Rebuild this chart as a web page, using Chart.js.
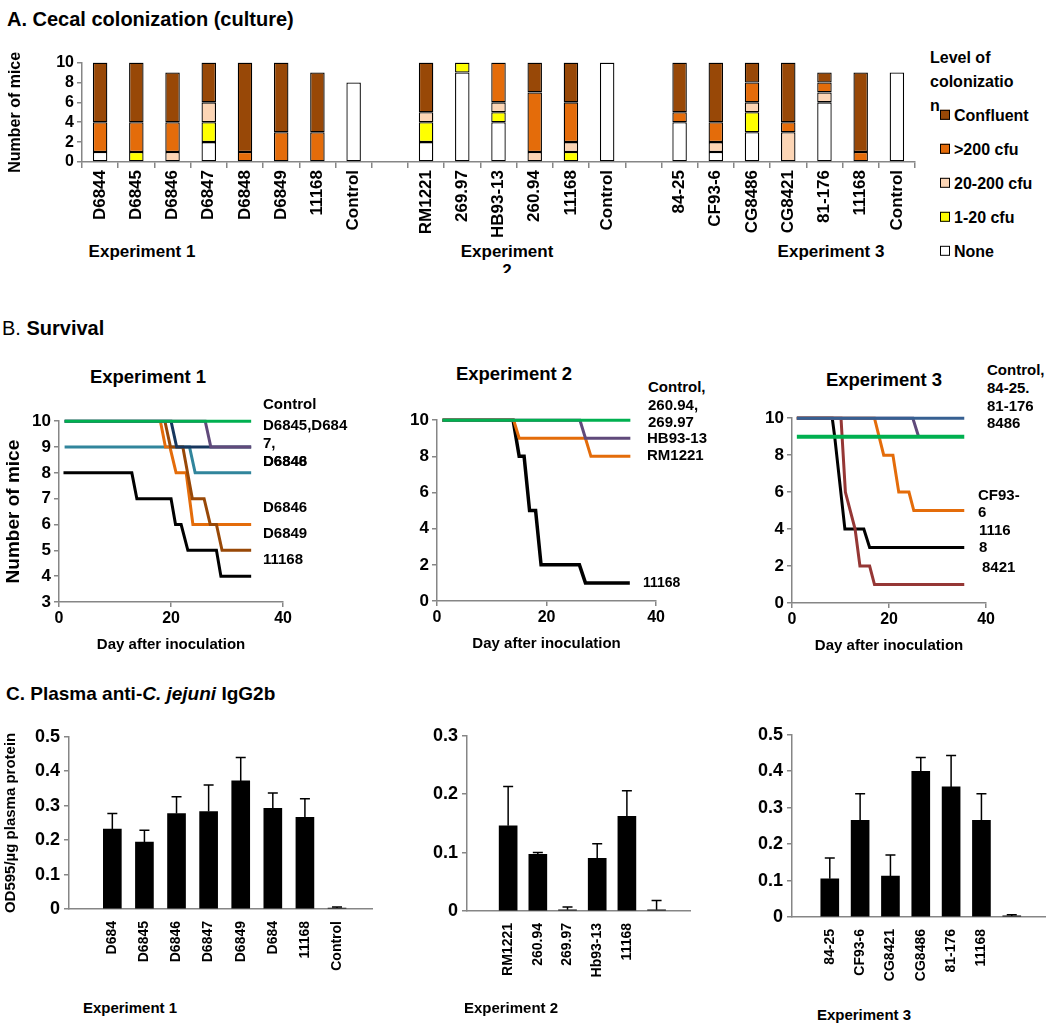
<!DOCTYPE html>
<html>
<head>
<meta charset="utf-8">
<script src="https://cdn.jsdelivr.net/npm/chart.js@4.4.0/dist/chart.umd.min.js"></script>
<style>
  body { margin: 0; background: #fff; }
  #page { position: relative; width: 1050px; height: 1029px; overflow: hidden;
          font-family: "Liberation Sans", Arial, sans-serif; font-weight: bold; color: #000; }
  canvas { position: absolute; }
  .t { position: absolute; white-space: nowrap; line-height: 1.15; }
  .sw { display: inline-block; width: 8px; height: 8px; border: 1px solid #000; margin-right: 4px; vertical-align: 1px; }
</style>
</head>
<body>
<div id="page"></div>
<script>
const FONT = '"Liberation Sans", Arial, sans-serif';
const GRAY = '#868686';

// ---------- A. colonization, bottom -> top of each stack ----------
const catA = ["D6844", "D6845", "D6846", "D6847", "D6848", "D6849", "11168", "Control", "",
              "RM1221", "269.97", "HB93-13", "260.94", "11168", "Control", "",
              "84-25", "CF93-6", "CG8486", "CG8421", "81-176", "11168", "Control"];
const noneA = [1, 0, 0, 2, 0, 0, 0, 8, 0,  2, 9, 4, 0, 0, 10, 0,  4, 1, 3, 0, 6, 0, 9];
const lowA  = [0, 1, 0, 2, 0, 0, 0, 0, 0,  2, 1, 1, 0, 1, 0, 0,   0, 0, 2, 0, 0, 0, 0];
const midA  = [0, 0, 1, 2, 0, 0, 0, 0, 0,  1, 0, 1, 1, 1, 0, 0,   0, 1, 1, 3, 1, 0, 0];
const highA = [3, 3, 3, 0, 1, 3, 3, 0, 0,  0, 0, 4, 6, 4, 0, 0,   1, 2, 2, 1, 1, 1, 0];
const confA = [6, 6, 5, 4, 9, 7, 6, 0, 0,  5, 0, 0, 3, 4, 0, 0,   5, 6, 2, 6, 1, 8, 0];
const levelNames  = ["Confluent", ">200 cfu", "20-200 cfu", "1-20 cfu", "None"];
const levelColors = ["#984807", "#E46C0A", "#FCD5B5", "#FFFF00", "#FFFFFF"];
const ticksA = [0, 2, 4, 6, 8, 10];

// ---------- B. survival (day, mice) ----------
const dayTicks = [0, 20, 40];
const b1Ticks = [3, 4, 5, 6, 7, 8, 9, 10];
const b1CtrlDays = [1, 34.3],                               b1CtrlMice = [10, 10];
const b1NavyDays = [1, 20, 21, 34.3],                       b1NavyMice = [10, 10, 9, 9];
const b1PurpDays = [1, 26.1, 27.1, 34.3],                   b1PurpMice = [10, 10, 9, 9];
const b1TealDays = [1, 23.3, 24.3, 34.3],                   b1TealMice = [9, 9, 8, 8];
const b1OranDays = [18.1, 19, 19.8, 20.9, 22.7, 23.9, 34.3], b1OranMice = [10, 9, 9, 8, 8, 6, 6];
const b1BrowDays = [18.9, 19.9, 22.1, 23.8, 25.9, 27, 28.1, 29.1, 34.3], b1BrowMice = [10, 9, 9, 7, 7, 6, 6, 5, 5];
const b1BlakDays = [0.8, 13, 13.9, 20, 20.8, 21.8, 23, 28.1, 28.9, 34.3], b1BlakMice = [8, 8, 7, 7, 6, 6, 5, 5, 4, 4];

const b2Ticks = [0, 2, 4, 6, 8, 10];
const b2CtrlDays = [1, 35.3],                     b2CtrlMice = [10, 10];
const b2PurpDays = [1, 26.1, 27.1, 35.3],         b2PurpMice = [10, 10, 9, 9];
const b2OranDays = [1, 14, 15, 27.1, 28.1, 35.3], b2OranMice = [10, 10, 9, 9, 8, 8];
const b2BlakDays = [1, 13.9, 15, 15.9, 16.9, 18, 19, 26, 27.1, 35.2], b2BlakMice = [10, 10, 8, 8, 5, 5, 2, 2, 1, 1];

const b3Ticks = [0, 2, 4, 6, 8, 10];
const b3BlueDays = [1, 35.5],                                b3BlueMice = [10, 10];
const b3GrenDays = [1, 35.5],                                b3GrenMice = [9, 9];
const b3PurpDays = [1, 24.9, 26.1],                          b3PurpMice = [10, 10, 9];
const b3OranDays = [1, 17, 18.9, 20.8, 22, 24.1, 25.1, 35.5], b3OranMice = [10, 10, 8, 8, 6, 6, 5, 5];
const b3BlakDays = [1, 8.3, 8.8, 10.9, 14.8, 16, 35.5],      b3BlakMice = [10, 10, 9, 4, 4, 3, 3];
const b3RedDays  = [1, 10.1, 11, 13, 14, 16, 17, 35.5],      b3RedMice  = [10, 10, 6, 4, 2, 2, 1, 1];

// ---------- C. IgG2b (mean, top of error bar) ----------
const c1Cats = ["D684", "D6845", "D6846", "D6847", "D6849", "D684", "11168", "Control"];
const c1Mean = [0.232, 0.194, 0.277, 0.283, 0.372, 0.292, 0.266, 0.003];
const c1Err  = [0.277, 0.229, 0.326, 0.360, 0.440, 0.337, 0.320, 0.006];
const c1Ticks = [0, 0.1, 0.2, 0.3, 0.4, 0.5];
const c2Cats = ["RM1221", "260.94", "269.97", "Hb93-13", "11168", ""];
const c2Mean = [0.146, 0.097, 0.002, 0.090, 0.162, 0.002];
const c2Err  = [0.213, 0.100, 0.007, 0.115, 0.206, 0.018];
const c2Ticks = [0, 0.1, 0.2, 0.3];
const c3Cats = ["84-25", "CF93-6", "CG8421", "CG8486", "81-176", "11168", ""];
const c3Mean = [0.105, 0.265, 0.112, 0.400, 0.357, 0.265, 0.003];
const c3Err  = [0.162, 0.338, 0.170, 0.438, 0.443, 0.338, 0.006];
const c3Ticks = [0, 0.1, 0.2, 0.3, 0.4, 0.5];

const page = document.getElementById('page');

function txt(html, x, y, size, style) {
  const d = document.createElement('div');
  d.className = 't';
  d.innerHTML = html;
  d.style.left = x + 'px';
  d.style.top = y + 'px';
  d.style.fontSize = size + 'px';
  d.style.transform = 'translateY(-50%)';
  Object.assign(d.style, style || {});
  page.appendChild(d);
  return d;
}
function ctxt(html, cx, y, size) {
  return txt(html, cx, y, size, { transform: 'translate(-50%,-50%)' });
}

// put a chart so that its plot area lands on box {l,t,r,b}
function place(box, yW, xH, padT, padR, cfg) {
  const c = document.createElement('canvas');
  const w = box.r - box.l + yW + padR, h = box.b - box.t + padT + xH;
  c.width = w; c.height = h;
  c.style.left = (box.l - yW) + 'px';
  c.style.top = (box.t - padT) + 'px';
  c.style.width = w + 'px'; c.style.height = h + 'px';
  page.appendChild(c);
  const o = cfg.options;
  o.responsive = false;
  o.animation = false;
  o.devicePixelRatio = 1;
  o.layout = { autoPadding: false, padding: { top: padT, right: padR, left: 0, bottom: 0 } };
  o.plugins = Object.assign({ legend: { display: false }, tooltip: { enabled: false } }, o.plugins || {});
  o.scales.x.afterFit = s => { s.height = xH; };
  o.scales.y.afterFit = s => { s.width = yW; };
  return new Chart(c, cfg);
}

function fixedTicks(list) {
  return s => { s.ticks = list.map(v => ({ value: v })); };
}
function font(size) { return { family: FONT, size: size, weight: 'bold' }; }

// ================= A =================
txt('A. Cecal colonization (culture)', 7, 19, 20);

const stackA = [noneA, lowA, midA, highA, confA];
const dsA = stackA.map((arr, k) => ({
  label: levelNames[4 - k],
  data: arr.map(v => v === 0 ? null : v),
  backgroundColor: levelColors[4 - k],
  borderColor: '#000',
  borderWidth: 1.3,
  borderSkipped: false,
  barPercentage: 0.4,
  categoryPercentage: 1
}));

place({ l: 82, t: 60, r: 915, b: 162 }, 82, 80, 10, 10, {
  type: 'bar',
  data: { labels: catA, datasets: dsA },
  options: {
    scales: {
      x: {
        stacked: true,
        grid: { display: true, drawOnChartArea: false, drawTicks: true, tickLength: 6, tickColor: GRAY, tickWidth: 1.5, color: GRAY, lineWidth: 1.5, offset: true },
        border: { color: GRAY, width: 1.5 },
        ticks: { autoSkip: false, minRotation: 90, maxRotation: 90, color: '#000', font: font(17), padding: 2 }
      },
      y: {
        stacked: true, min: 0, max: 10,
        afterBuildTicks: fixedTicks(ticksA),
        grid: { drawOnChartArea: false, tickLength: 5, color: GRAY, lineWidth: 1.5 },
        border: { color: GRAY, width: 1.5 },
        ticks: { autoSkip: false, color: '#000', font: font(16), padding: 3 },
        title: { display: true, text: 'Number of mice', color: '#000', font: font(16), padding: { top: 6, bottom: 0 } }
      }
    }
  }
});

ctxt('Experiment 1', 142, 252, 17);
txt('Experiment<br>2', 507, 242, 17, { transform: 'translateX(-50%)', textAlign: 'center', height: '31px', overflow: 'hidden', lineHeight: '19px' });
ctxt('Experiment 3', 831, 252, 17);

// legend for A
txt('Level of', 930, 58, 16);
txt('colonizatio', 930, 82, 16);
txt('n', 930, 106, 16);
levelNames.forEach((n, i) => {
  txt('<span class="sw" style="background:' + levelColors[i] + '"></span>' + n, 940, 116 + i * 34, 16);
});

// ================= B =================
txt('B. <b>Survival</b>', 2, 328, 20, { fontWeight: 'normal' });

function series(days, mice, color, width) {
  return {
    data: days.map((d, i) => ({ x: d, y: mice[i] })),
    borderColor: color, borderWidth: width || 3,
    pointRadius: 0, tension: 0, fill: false, clip: false
  };
}
function survivalOpts(yMin, yTicks) {
  return {
    scales: {
      x: {
        type: 'linear', min: 0, max: 40,
        afterBuildTicks: fixedTicks(dayTicks),
        grid: { drawOnChartArea: false, tickLength: 5, color: GRAY, lineWidth: 1.5 },
        border: { color: GRAY, width: 1.5 },
        ticks: { autoSkip: false, color: '#000', font: font(16), padding: 2 },
        title: { display: true, text: 'Day after inoculation', color: '#000', font: font(15), padding: { top: 0, bottom: 2 } }
      },
      y: {
        min: yMin, max: 10,
        afterBuildTicks: fixedTicks(yTicks),
        grid: { drawOnChartArea: false, tickLength: 5, color: GRAY, lineWidth: 1.5 },
        border: { color: GRAY, width: 1.5 },
        ticks: { autoSkip: false, color: '#000', font: font(17), padding: 3 },
        title: { display: false }
      }
    }
  };
}

// B1
const o1 = survivalOpts(3, b1Ticks);
o1.scales.y.title = { display: true, text: 'Number of mice', color: '#000', font: font(19), padding: { top: 2, bottom: 0 } };
place({ l: 59, t: 420, r: 284, b: 602 }, 59, 54, 12, 10, {
  type: 'line',
  data: { datasets: [
    series(b1CtrlDays, b1CtrlMice, '#00B050'),
    series(b1PurpDays, b1PurpMice, '#604A7B'),
    series(b1NavyDays, b1NavyMice, '#17375E'),
    series(b1BrowDays, b1BrowMice, '#984807'),
    series(b1OranDays, b1OranMice, '#E46C0A'),
    series(b1TealDays, b1TealMice, '#31859C'),
    series(b1BlakDays, b1BlakMice, '#000000')
  ] },
  options: o1
});
ctxt('Experiment 1', 148, 377, 18.5);
txt('Control', 263, 404, 15);
txt('D6845,D684', 263, 425, 15);
txt('7,', 263, 443, 15);
txt('D6846', 263, 461, 15);
txt('D6848', 263, 461, 15);
txt('D6846', 263, 507, 15);
txt('D6849', 263, 533, 15);
txt('11168', 263, 559, 15);

// B2
place({ l: 437, t: 419, r: 657, b: 601 }, 50, 54, 12, 10, {
  type: 'line',
  data: { datasets: [
    series(b2CtrlDays, b2CtrlMice, '#00B050'),
    series(b2PurpDays, b2PurpMice, '#604A7B'),
    series(b2OranDays, b2OranMice, '#E46C0A'),
    series(b2BlakDays, b2BlakMice, '#000000', 3.5)
  ] },
  options: survivalOpts(0, b2Ticks)
});
ctxt('Experiment 2', 514, 374, 18.5);
txt('Control,', 648, 387, 15);
txt('260.94,', 648, 405, 15);
txt('269.97', 648, 422, 15);
txt('HB93-13', 647, 438, 15);
txt('RM1221', 647, 455, 15);
txt('11168', 643, 582, 14);

// B3
place({ l: 792, t: 417, r: 987, b: 603 }, 50, 54, 12, 10, {
  type: 'line',
  data: { datasets: [
    series(b3BlueDays, b3BlueMice, '#376092'),
    series(b3GrenDays, b3GrenMice, '#00B050', 4),
    series(b3PurpDays, b3PurpMice, '#604A7B'),
    series(b3OranDays, b3OranMice, '#E46C0A'),
    series(b3RedDays, b3RedMice, '#953735'),
    series(b3BlakDays, b3BlakMice, '#000000')
  ] },
  options: survivalOpts(0, b3Ticks)
});
ctxt('Experiment 3', 884, 380, 18.5);
txt('Control,', 987, 370, 15);
txt('84-25.', 987, 388, 15);
txt('81-176', 987, 406, 15);
txt('8486', 987, 423, 15);
txt('CF93-', 978, 495, 15);
txt('6', 978, 512, 15);
txt('1116', 979, 530, 15);
txt('8', 979, 547, 15);
txt('8421', 982, 567, 15);

// ================= C =================
txt('C. Plasma anti-<i>C. jejuni</i> IgG2b', 6, 694, 19);

const errorBars = {
  id: 'errorBars',
  afterDatasetsDraw(chart, args, opts) {
    const ctx = chart.ctx, y = chart.scales.y;
    const meta = chart.getDatasetMeta(0);
    const ds = chart.data.datasets[0].data;
    ctx.save();
    ctx.strokeStyle = '#000';
    ctx.lineWidth = 1.5;
    meta.data.forEach((bar, i) => {
      const yt = y.getPixelForValue(opts.tops[i]);
      const yb = y.getPixelForValue(ds[i].y);
      ctx.beginPath();
      ctx.moveTo(bar.x, yb); ctx.lineTo(bar.x, yt);
      ctx.moveTo(bar.x - 5, yt); ctx.lineTo(bar.x + 5, yt);
      ctx.stroke();
    });
    ctx.restore();
  }
};

function igOpts(cats, xMin, xMax, yMax, yTicks, tops) {
  return {
    plugins: { errorBars: { tops: tops } },
    scales: {
      x: {
        type: 'linear', min: xMin, max: xMax,
        afterBuildTicks: s => { s.ticks = cats.map((c, i) => ({ value: i })); },
        grid: { display: false },
        border: { color: GRAY, width: 1.5 },
        ticks: { autoSkip: false, minRotation: 90, maxRotation: 90, color: '#000', font: font(14), padding: 4,
                 callback: v => cats[v] },
      },
      y: {
        min: 0, max: yMax,
        afterBuildTicks: fixedTicks(yTicks),
        grid: { drawOnChartArea: false, tickLength: 5, color: GRAY, lineWidth: 1.5 },
        border: { color: GRAY, width: 1.5 },
        ticks: { autoSkip: false, color: '#000', font: font(18), padding: 4 }
      }
    }
  };
}
function igData(mean) {
  return { datasets: [{ data: mean.map((v, i) => ({ x: i, y: v })), backgroundColor: '#000', barThickness: 18 }] };
}

const oc1 = igOpts(c1Cats, -0.76, 7.5, 0.5, c1Ticks, c1Err);
oc1.scales.y.title = { display: true, text: 'OD595/\u00b5g plasma protein', color: '#000', font: font(15), padding: { top: 2, bottom: 0 } };
place({ l: 69, t: 734, r: 372, b: 909 }, 69, 70, 12, 40, {
  type: 'bar', data: igData(c1Mean), options: oc1, plugins: [errorBars]
});
place({ l: 467, t: 733, r: 690, b: 911 }, 60, 70, 12, 10, {
  type: 'bar', data: igData(c2Mean), options: igOpts(c2Cats, -0.76, 5.5, 0.3, c2Ticks, c2Err), plugins: [errorBars]
});
place({ l: 792, t: 732, r: 1045, b: 917 }, 60, 70, 12, 4, {
  type: 'bar', data: igData(c3Mean), options: igOpts(c3Cats, -0.65, 6.5, 0.5, c3Ticks, c3Err), plugins: [errorBars]
});
ctxt('Experiment 1', 130, 1008, 15);
ctxt('Experiment 2', 511, 1008, 15);
ctxt('Experiment 3', 864, 1015, 15);
</script>
</body>
</html>
